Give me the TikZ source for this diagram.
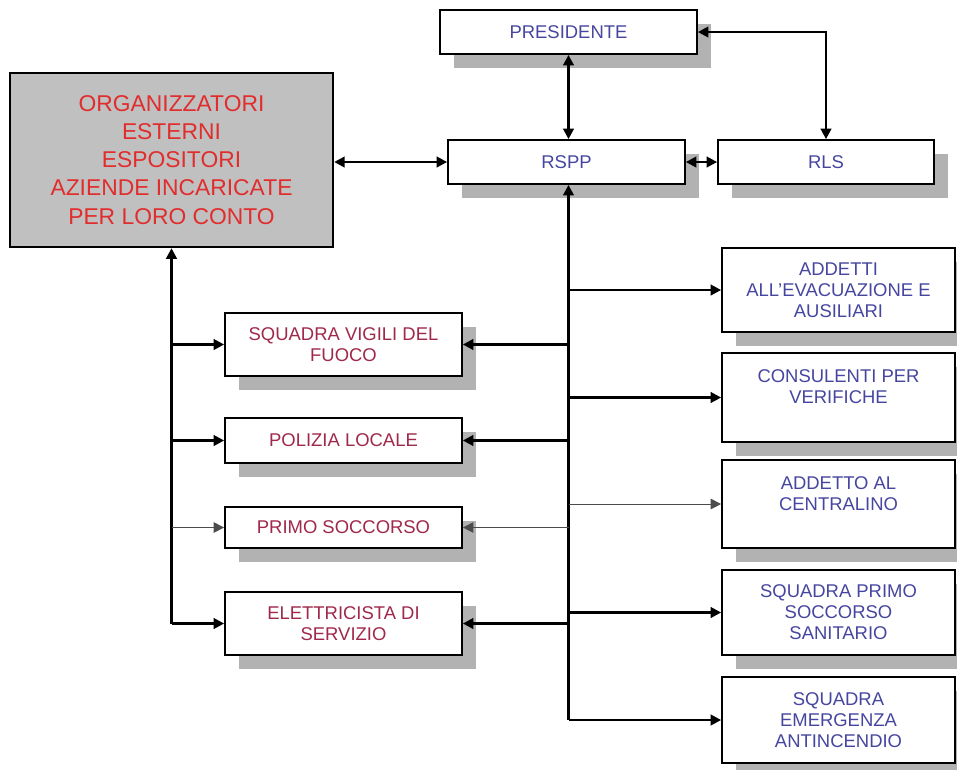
\documentclass[tikz,border=0pt]{standalone}
\usepackage{fontspec}
\setmainfont{Liberation Sans}
\usepackage{tikz}
\usetikzlibrary{arrows.meta,shadows}
\definecolor{orgred}{RGB}{225,45,45}
\definecolor{boxred}{RGB}{160,40,75}
\definecolor{boxblue}{RGB}{70,70,160}
\definecolor{boxgray}{RGB}{192,192,192}
\definecolor{shadowgray}{RGB}{178,178,178}
\def\boxfont{\fontsize{10.5}{12}\selectfont}

\begin{document}
\begin{tikzpicture}[x=0.02cm, y=-0.02cm, >={Triangle[length=6pt,width=6pt]},
		box/.style={draw, line width=1pt, fill=white, align=center, inner sep=2pt, font=\boxfont,
			general shadow={fill=shadowgray, shadow xshift=0.28cm, shadow yshift=-0.28cm}},
		leftbox/.style={box, text=boxred, minimum width=4.74cm},
		rightbox/.style={box, text=boxblue, minimum width=4.66cm},
		link/.style={line width=1.4pt, ->},
		bilink/.style={line width=1.4pt, <->},
		thinlink/.style={line width=0.5pt, draw=black!70, ->}]
			%%%%% START %%%%%
			
			\useasboundingbox (0,0) rectangle (957,769);
			
			\node[box, text=boxblue, minimum width=5.14cm, minimum height=0.88cm] (pres) at (568.5, 32) {PRESIDENTE};
			\node[box, text=boxblue, minimum width=4.74cm, minimum height=0.88cm] (rspp) at (566.5, 162) {RSPP};
			\node[box, text=boxblue, minimum width=4.32cm, minimum height=0.88cm] (rls) at (826, 162) {RLS};
			
			\node[draw, line width=1.4pt, fill=boxgray, text=orgred, align=center, minimum width=6.46cm, minimum height=3.48cm,
				font=\fontsize{13}{16}\selectfont] (org) at (171.5, 160)
				{ORGANIZZATORI\\ESTERNI\\ESPOSITORI\\AZIENDE INCARICATE\\PER LORO CONTO};
			
			\node[leftbox, minimum height=1.26cm] (vvf) at (343.5, 344.5) {SQUADRA VIGILI DEL\\FUOCO};
			\node[leftbox, minimum height=0.90cm] (pol) at (343.5, 440.5) {POLIZIA LOCALE};
			\node[leftbox, minimum height=0.82cm] (ps) at (343.5, 527.5) {PRIMO SOCCORSO};
			\node[leftbox, minimum height=1.26cm] (ele) at (343.5, 623.5) {ELETTRICISTA DI\\SERVIZIO};
			
			\node[rightbox, minimum height=1.68cm] (add) at (838.5, 290) {ADDETTI\\ALL'EVACUAZIONE E\\AUSILIARI};
			\node[rightbox, minimum height=1.78cm] (cons) at (838.5, 397.5) {CONSULENTI PER\\VERIFICHE\\\mbox{}};
			\node[rightbox, minimum height=1.76cm] (cent) at (838.5, 504) {ADDETTO AL\\CENTRALINO\\\mbox{}};
			\node[rightbox, minimum height=1.70cm] (sps) at (838.5, 612.5) {SQUADRA PRIMO\\SOCCORSO\\SANITARIO};
			\node[rightbox, minimum height=1.72cm] (sea) at (838.5, 720) {SQUADRA\\EMERGENZA\\ANTINCENDIO};
			
			% top links
			\draw[bilink] (pres.south) -- (pres.south |- rspp.north);
			\draw[bilink] (org.east |- rspp) -- (rspp.west);
			\draw[bilink] (rspp.east) -- (rls.west);
			\draw[bilink] (pres.east) -| (rls.north);
			
			% trunk under RSPP
			\draw[link] (pres.south |- sea) -- (pres.south |- rspp.south);
			\foreach \b in {add,cons,sps,sea}
				\draw[link] (pres.south |- \b) -- (\b.west);
			\draw[thinlink] (pres.south |- cent) -- (cent.west);
			\foreach \b in {vvf,pol,ele}
				\draw[link] (pres.south |- \b) -- (\b.east);
			\draw[thinlink] (pres.south |- ps) -- (ps.east);
			
			% trunk under the grey box
			\draw[link] (org.south |- ele) -- (org.south);
			\foreach \b in {vvf,pol,ele}
				\draw[link] (org.south |- \b) -- (\b.west);
			\draw[thinlink] (org.south |- ps) -- (ps.west);
			
			%%%%% END %%%%%
\end{tikzpicture}
\end{document}
